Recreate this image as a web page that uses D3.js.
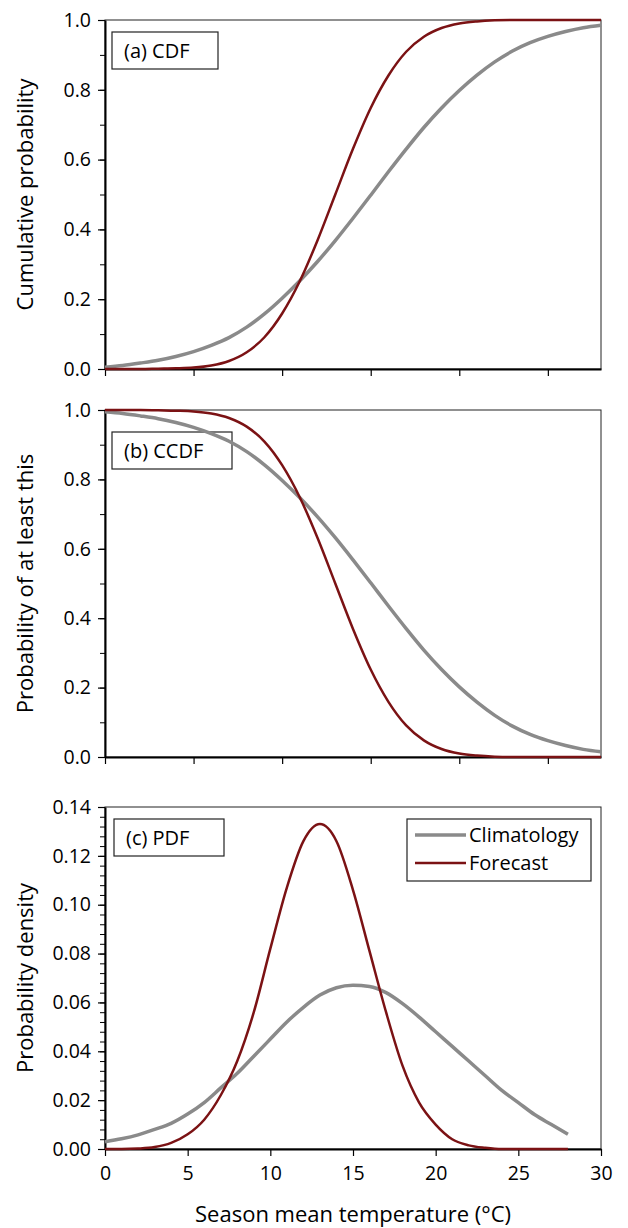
<!DOCTYPE html>
<html>
<head>
<meta charset="utf-8">
<script src="https://cdn.jsdelivr.net/npm/d3@7/dist/d3.min.js"></script>
<style>
body { margin: 0; background: #fff; }
svg text { font-family: "Open Sans", sans-serif; fill: #000; }
</style>
</head>
<body>
<div id="chart"></div>
<script>
// values, one per degree C
var temps = [0,1,2,3,4,5,6,7,8,9,10,11,12,13,14,15,16,17,18,19,20,21,22,23,24,25,26,27,28];

var climCdf = [0.005,0.010,0.017,0.025,0.036,0.050,0.068,0.090,0.120,0.158,0.203,0.253,0.308,0.368,0.432,
  0.498,0.565,0.630,0.692,0.748,0.798,0.842,0.880,0.911,0.935,0.953,0.967,0.978,0.985];
var fcstCdf = [0.000,0.000,0.000,0.001,0.002,0.004,0.010,0.023,0.048,0.091,0.159,0.252,0.369,0.500,0.631,
  0.748,0.841,0.909,0.952,0.977,0.990,0.996,0.999,1.000,1.000,1.000,1.000,1.000,1.000];

var climCcdf = [0.995,0.990,0.983,0.975,0.964,0.950,0.932,0.910,0.880,0.842,0.797,0.747,0.692,0.632,0.568,
  0.502,0.435,0.370,0.308,0.252,0.202,0.158,0.120,0.089,0.065,0.047,0.033,0.022,0.015];
var fcstCcdf = [1.000,1.000,1.000,0.999,0.998,0.996,0.990,0.977,0.952,0.909,0.841,0.748,0.631,0.500,0.369,
  0.252,0.159,0.091,0.048,0.023,0.010,0.004,0.001,0.000,0.000,0.000,0.000,0.000,0.000];

var climPdf = [0.003,0.0042,0.0058,0.008,0.0105,0.0143,0.019,0.025,0.031,0.038,0.045,0.052,0.058,0.063,0.066,
  0.067,0.0665,0.064,0.0595,0.054,0.048,0.042,0.036,0.030,0.024,0.019,0.014,0.010,0.006];
var fcstPdf = [0.000,0.000,0.0002,0.0008,0.0025,0.006,0.012,0.022,0.036,0.056,0.082,0.107,0.126,0.133,0.126,
  0.106,0.081,0.056,0.034,0.019,0.010,0.004,0.0015,0.0005,0.000,0.000,0.000,0.000,0.000];

var seriesNames = ["Climatology", "Forecast"];
var probTicks = [0, 0.2, 0.4, 0.6, 0.8, 1.0];
var densTicks = [0, 0.02, 0.04, 0.06, 0.08, 0.10, 0.12, 0.14];
var tempTicks = [0, 5, 10, 15, 20, 25, 30];

var WIDTH = 628, HEIGHT = 1228;
var LEFT = 105, RIGHT = 601;
var GREY = "#8a8a8a", RED = "#7b1214";

var svg = d3.select("#chart").append("svg")
    .attr("width", WIDTH)
    .attr("height", HEIGHT);

var panels = [
  {top: 20, bottom: 369, xMax: 28, yMax: 1, ticks: probTicks, minor: 0.1, fmt: d3.format(".1f"),
   title: "Cumulative probability", label: "(a) CDF", box: [112, 32, 106, 37],
   clim: climCdf, fcst: fcstCdf, xLabels: false},
  {top: 410, bottom: 757, xMax: 28, yMax: 1, ticks: probTicks, minor: 0.1, fmt: d3.format(".1f"),
   title: "Probability of at least this", label: "(b) CCDF", box: [112, 432, 120, 37],
   clim: climCcdf, fcst: fcstCcdf, xLabels: false},
  {top: 807, bottom: 1149, xMax: 30, yMax: 0.14, ticks: densTicks, minor: 0.004, fmt: d3.format(".2f"),
   title: "Probability density", label: "(c) PDF", box: [114, 819, 110, 37],
   clim: climPdf, fcst: fcstPdf, xLabels: true, legend: true}
];

panels.forEach(function(p) {
  var x = d3.scaleLinear().domain([0, p.xMax]).range([LEFT, RIGHT]);
  var y = d3.scaleLinear().domain([0, p.yMax]).range([p.bottom, p.top]);
  var g = svg.append("g");

  // frame (top / right)
  g.append("rect")
    .attr("x", LEFT).attr("y", p.top)
    .attr("width", RIGHT - LEFT).attr("height", p.bottom - p.top)
    .style("fill", "none").style("stroke", "#222").style("stroke-width", 1);

  // minor y ticks
  var minorVals = d3.range(0, p.yMax + 1e-9, p.minor);
  g.append("g")
    .attr("transform", "translate(" + LEFT + ",0)")
    .call(d3.axisLeft(y).tickValues(minorVals).tickSize(5).tickFormat(""))
    .call(a => a.select(".domain").remove())
    .selectAll("line").style("stroke", "#000").style("stroke-width", 1);

  // major y axis
  var yAxis = g.append("g")
    .attr("transform", "translate(" + LEFT + ",0)")
    .call(d3.axisLeft(y).tickValues(p.ticks).tickSize(7).tickSizeOuter(0).tickPadding(7).tickFormat(p.fmt));
  yAxis.selectAll("text").style("font-size", "19.5px");
  yAxis.select(".domain").style("stroke", "#000").style("stroke-width", 2);
  yAxis.selectAll(".tick line").style("stroke-width", 1.2);

  // x axis
  var xt = p.xLabels ? tempTicks : tempTicks.filter(function(d) { return d <= 25; });
  var xAxis = g.append("g")
    .attr("transform", "translate(0," + p.bottom + ")")
    .call(d3.axisBottom(x).tickValues(xt).tickSize(7).tickSizeOuter(0).tickPadding(10)
      .tickFormat(p.xLabels ? d3.format("d") : ""));
  xAxis.selectAll("text").style("font-size", "19.5px");
  xAxis.select(".domain").style("stroke", "#000").style("stroke-width", 2);
  xAxis.selectAll(".tick line").style("stroke-width", 1.2);

  // y title
  g.append("text")
    .attr("transform", "translate(33," + ((p.top + p.bottom) / 2) + ") rotate(-90)")
    .style("text-anchor", "middle")
    .style("font-size", "22px")
    .text(p.title);

  // panel label box
  g.append("rect")
    .attr("x", p.box[0]).attr("y", p.box[1])
    .attr("width", p.box[2]).attr("height", p.box[3])
    .style("fill", "#fff").style("stroke", "#222").style("stroke-width", 1.2);
  g.append("text")
    .attr("x", p.box[0] + 12).attr("y", p.box[1] + 26)
    .style("font-size", "20px")
    .text(p.label);

  var line = d3.line()
    .x(function(d, i) { return x(temps[i]); })
    .y(function(d) { return y(d); })
    .curve(d3.curveMonotoneX);

  g.append("path")
    .attr("d", line(p.clim))
    .style("fill", "none").style("stroke", GREY).style("stroke-width", 3.5);
  g.append("path")
    .attr("d", line(p.fcst))
    .style("fill", "none").style("stroke", RED).style("stroke-width", 2.5);

  if (p.legend) {
    var lg = g.append("g");
    lg.append("rect")
      .attr("x", 407).attr("y", 819).attr("width", 184).attr("height", 62)
      .style("fill", "#fff").style("stroke", "#222").style("stroke-width", 1.2);
    seriesNames.forEach(function(name, i) {
      var yy = 835 + i * 28;
      lg.append("line")
        .attr("x1", 415).attr("x2", 466).attr("y1", yy).attr("y2", yy)
        .style("stroke", i == 0 ? GREY : RED).style("stroke-width", i == 0 ? 3.5 : 2.5);
      lg.append("text")
        .attr("x", 469).attr("y", yy + 7)
        .style("font-size", "20px")
        .text(name);
    });
  }

  if (p.xLabels) {
    g.append("text")
      .attr("x", (LEFT + RIGHT) / 2).attr("y", 1222)
      .style("text-anchor", "middle")
      .style("font-size", "22px")
      .text("Season mean temperature (°C)");
  }
});
</script>
</body>
</html>
